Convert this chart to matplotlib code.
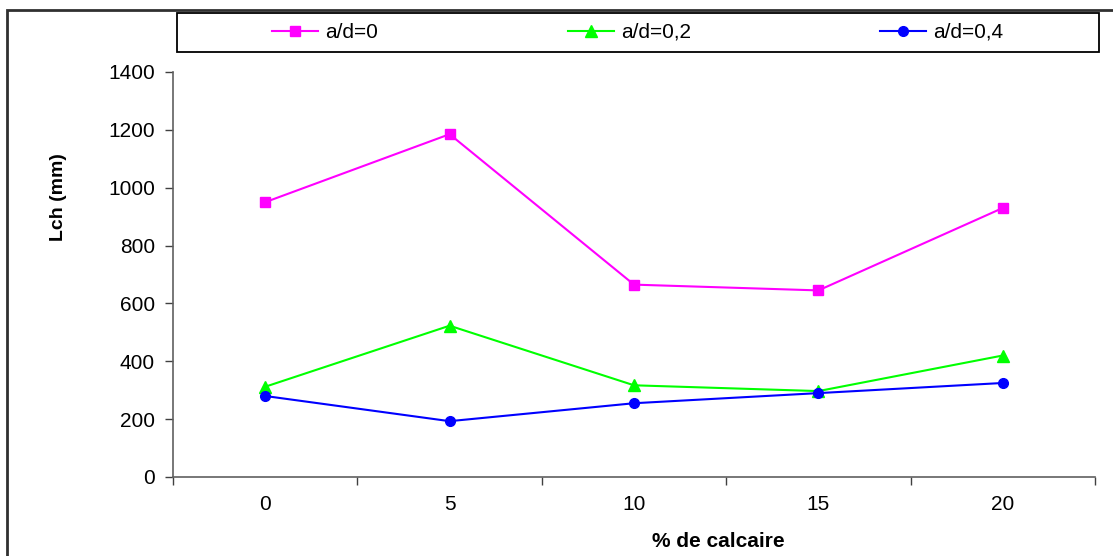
import matplotlib
matplotlib.use("Agg")
import matplotlib.pyplot as plt
from matplotlib.patches import Rectangle
from matplotlib.ticker import FixedLocator

plt.rcParams["font.family"] = ["Liberation Sans", "DejaVu Sans"]

calcaire = ["0", "5", "10", "15", "20"]
lch_ad0 = [950, 1185, 665, 645, 930]
lch_ad02 = [312, 523, 317, 297, 420]
lch_ad04 = [280, 193, 255, 290, 325]
y_ticks = [0, 200, 400, 600, 800, 1000, 1200, 1400]

W, H = 1113, 556
fig = plt.figure(figsize=(W / 100, H / 100), dpi=100)
ax = fig.add_axes([173 / W, 1 - 477 / H, (1095 - 173) / W, (477 - 72) / H])

x = list(range(len(calcaire)))
l1, = ax.plot(x, lch_ad0, color="#FF00FF", marker="s", markersize=7, linewidth=1.5, label="a/d=0")
l2, = ax.plot(x, lch_ad02, color="#00FF00", marker="^", markersize=8, linewidth=1.5, label="a/d=0,2")
l3, = ax.plot(x, lch_ad04, color="#0000FF", marker="o", markersize=7, linewidth=1.5, label="a/d=0,4")

ax.set_xlim(-0.5, len(calcaire) - 0.5)
ax.set_ylim(0, 1400)
ax.set_yticks(y_ticks)
ax.set_xticks(x)
ax.set_xticklabels(calcaire)
ax.xaxis.set_minor_locator(FixedLocator([i - 0.5 for i in range(len(calcaire) + 1)]))

for s in ["top", "right"]:
    ax.spines[s].set_visible(False)
for s in ["left", "bottom"]:
    ax.spines[s].set_color("#606060")
    ax.spines[s].set_linewidth(1.2)

ax.tick_params(axis="y", direction="out", length=6, width=1, color="#404040", pad=7, labelsize=15)
ax.tick_params(axis="x", which="major", length=0, pad=13, labelsize=15)
ax.tick_params(axis="x", which="minor", direction="out", length=6, width=1, color="#404040")

ax.set_ylabel("Lch (mm)", fontsize=14, fontweight="bold")
ax.yaxis.set_label_coords((67 - 173) / 922, (477 - 197) / 405)
ax.set_xlabel("% de calcaire", fontsize=15, fontweight="bold")
ax.xaxis.set_label_coords((718 - 173) / 922, -(532 - 477) / 405)

# legend box + entries
fig.add_artist(Rectangle((177 / W, 1 - 52 / H), (1099 - 177) / W, 39 / H,
                         transform=fig.transFigure, fill=False, edgecolor="black", linewidth=1.3))
fig.legend([l1, l2, l3], ["a/d=0", "a/d=0,2", "a/d=0,4"], ncol=3, loc="center left",
           bbox_to_anchor=(272 / W, 1 - 32.5 / H), frameon=False, fontsize=15,
           handlelength=2.21, handletextpad=0.34, columnspacing=9.1,
           borderpad=0, borderaxespad=0)

# outer chart frame
fig.add_artist(Rectangle((7 / W, -0.1), 1.2, 1 - 10 / H + 0.1,
                         transform=fig.transFigure, fill=False, edgecolor="#303030", linewidth=2))

fig.savefig("out.png", dpi=100)
